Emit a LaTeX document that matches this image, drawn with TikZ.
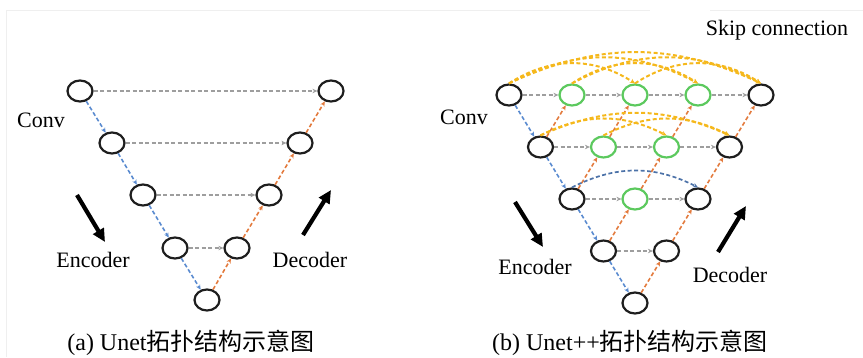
\documentclass[tikz,border=0pt]{standalone}
\usepackage{fontspec}
\setmainfont{Liberation Serif}
\newfontfamily\cjk{Noto Sans CJK SC}
\usetikzlibrary{arrows.meta,shapes.geometric}
\definecolor{nodeblack}{HTML}{1E1E1E}
\definecolor{nodegreen}{HTML}{5CC95E}
\definecolor{skipgray}{HTML}{9E9E9E}
\definecolor{encblue}{HTML}{5A8BD0}
\definecolor{decorange}{HTML}{E37B3E}
\definecolor{arcyellow}{HTML}{F5B81C}
\definecolor{arcblue}{HTML}{4C72A8}
\definecolor{framegray}{HTML}{EFEFEF}
\begin{document}
\begin{tikzpicture}[x=1pt,y=1pt,
  unit/.style={ellipse, draw=nodeblack, line width=2.2pt, minimum width=25pt, minimum height=21pt, inner sep=0pt},
  nested/.style={unit, draw=nodegreen},
  link/.style={dash pattern=on 4pt off 2.5pt, line width=1.6pt, -{Stealth[length=5pt,width=4.5pt]}},
  hor/.style={link, draw=skipgray},
  enc/.style={link, draw=encblue},
  dec/.style={link, draw=decorange},
  skiparc/.style={link, draw=arcyellow, line width=2pt},
  deeparc/.style={link, draw=arcblue, line width=1.7pt},
  bigarrow/.style={line width=4.2pt, draw=black, -{Triangle[length=13pt,width=12pt]}},
  txt/.style={font=\fontsize{22}{26}\selectfont, inner sep=0pt},
  captxt/.style={font=\fontsize{24}{28}\selectfont, inner sep=0pt}
]
\useasboundingbox (0,0) rectangle (863,357);
% faint frame
\draw[framegray, line width=0.8pt] (6,0) -- (6,347) -- (650,347);
\draw[framegray, line width=0.8pt] (710,347) -- (863,347);

% ---------- (a) Unet ----------
\node[unit] (A00) at (80,266) {};
\node[unit] (A10) at (112,214) {};
\node[unit] (A20) at (143,162) {};
\node[unit] (A30) at (175,109) {};
\node[unit] (A40) at (207,57) {};
\node[unit] (A31) at (237,109) {};
\node[unit] (A22) at (269,162) {};
\node[unit] (A13) at (300,214) {};
\node[unit] (A04) at (331,266) {};

\draw[enc] (A00) -- (A10);
\draw[enc] (A10) -- (A20);
\draw[enc] (A20) -- (A30);
\draw[enc] (A30) -- (A40);
\draw[dec] (A40) -- (A31);
\draw[dec] (A31) -- (A22);
\draw[dec] (A22) -- (A13);
\draw[dec] (A13) -- (A04);
\draw[hor] (A00) -- (A04);
\draw[hor] (A10) -- (A13);
\draw[hor] (A20) -- (A22);
\draw[hor] (A30) -- (A31);

\node[txt] (aconv) at (41,237) {Conv};
\node[txt] (aenc) at (93,97) {Encoder};
\node[txt] (adec) at (310,97) {Decoder};
\coordinate (aes) at (77,162);
\coordinate (aee) at (105,115);
\coordinate (ads) at (303,122);
\coordinate (ade) at (331,167);
\draw[bigarrow] (aes) -- (aee);
\draw[bigarrow] (ads) -- (ade);

\node[captxt] (capa) at (191,14) {(a) Unet{\cjk 拓扑结构示意图}};

% ---------- (b) Unet++ ----------
\node[unit] (B00) at (509,262) {};
\node[nested] (B01) at (572,262) {};
\node[nested] (B02) at (635,262) {};
\node[nested] (B03) at (698,262) {};
\node[unit] (B04) at (761,262) {};
\node[unit] (B10) at (540.5,210) {};
\node[nested] (B11) at (603.5,210) {};
\node[nested] (B12) at (666.5,210) {};
\node[unit] (B13) at (729.5,210) {};
\node[unit] (B20) at (572,158) {};
\node[nested] (B21) at (635,158) {};
\node[unit] (B22) at (698,158) {};
\node[unit] (B30) at (603.5,106) {};
\node[unit] (B31) at (666.5,106) {};
\node[unit] (B40) at (635,54) {};

% encoder path
\draw[enc] (B00) -- (B10);
\draw[enc] (B10) -- (B20);
\draw[enc] (B20) -- (B30);
\draw[enc] (B30) -- (B40);
% up-sampling paths
\draw[dec] (B10) -- (B01);
\draw[dec] (B20) -- (B11);
\draw[dec] (B11) -- (B02);
\draw[dec] (B30) -- (B21);
\draw[dec] (B21) -- (B12);
\draw[dec] (B12) -- (B03);
\draw[dec] (B40) -- (B31);
\draw[dec] (B31) -- (B22);
\draw[dec] (B22) -- (B13);
\draw[dec] (B13) -- (B04);
% horizontal paths
\draw[hor] (B00) -- (B01);
\draw[hor] (B01) -- (B02);
\draw[hor] (B02) -- (B03);
\draw[hor] (B03) -- (B04);
\draw[hor] (B10) -- (B11);
\draw[hor] (B11) -- (B12);
\draw[hor] (B12) -- (B13);
\draw[hor] (B20) -- (B21);
\draw[hor] (B21) -- (B22);
\draw[hor] (B30) -- (B31);
% dense skip arcs
\draw[skiparc] (B00.north) to[bend left=25] (B04.north);
\draw[skiparc] (B00.north) to[bend left=28] (B03.north);
\draw[skiparc] (B00.north) to[bend left=33] (B02.north);
\draw[skiparc] (B01.north) to[bend left=28] (B04.north);
\draw[skiparc] (B01.north) to[bend left=33] (B03.north);
\draw[skiparc] (B02.north) to[bend left=33] (B04.north);
\draw[skiparc] (B10.north) to[bend left=24] (B13.north);
\draw[skiparc] (B10.north) to[bend left=27] (B12.north);
\draw[skiparc] (B11.north) to[bend left=27] (B13.north);
\draw[deeparc] (B20.north) to[bend left=27] (B22.north);

\node[txt] (bconv) at (464,240) {Conv};
\node[txt] (benc) at (535,90) {Encoder};
\node[txt] (bdec) at (730,82) {Decoder};
\node[txt] (bskip) at (777,327) {Skip connection};
\coordinate (bes) at (515,155);
\coordinate (bee) at (543,110);
\coordinate (bds) at (718,105);
\coordinate (bde) at (746,151);
\draw[bigarrow] (bes) -- (bee);
\draw[bigarrow] (bds) -- (bde);

\node[captxt] (capb) at (630,14) {(b) Unet++{\cjk 拓扑结构示意图}};
\end{tikzpicture}
\end{document}
